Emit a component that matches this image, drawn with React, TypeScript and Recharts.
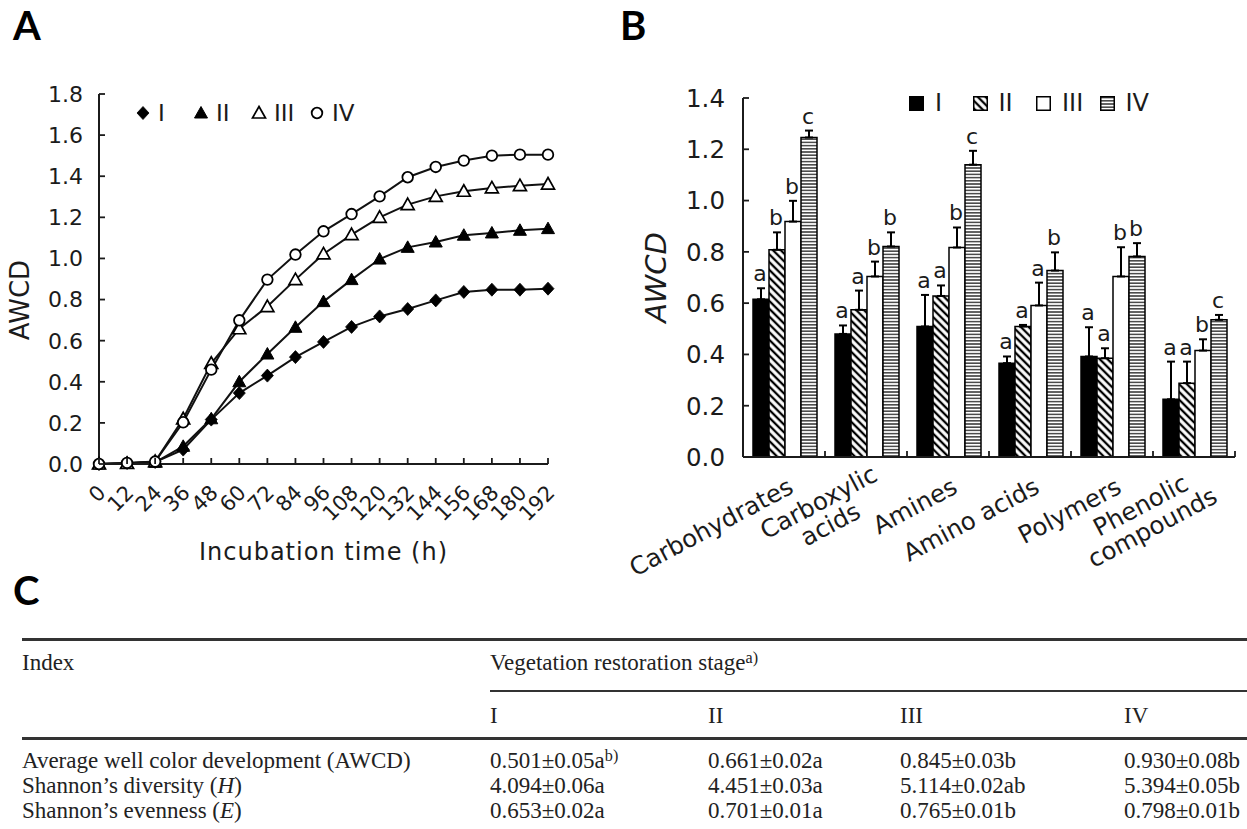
import React from 'react';
import { LineChart, Line, XAxis, YAxis, BarChart, Bar, ErrorBar, LabelList, Legend, Label } from 'recharts';

const SANS = '"DejaVu Sans", Verdana, sans-serif';
const SERIF = '"Liberation Serif", "Times New Roman", serif';
const PANEL_FONT = 'Lato, "Liberation Sans", sans-serif';
const INK = '#1b1b1b';

// ---------- Panel A: AWCD over incubation time ----------
const hours = [0, 12, 24, 36, 48, 60, 72, 84, 96, 108, 120, 132, 144, 156, 168, 180, 192];
const awcdStageI = [0, 0.005, 0.01, 0.07, 0.216, 0.345, 0.43, 0.52, 0.594, 0.667, 0.718, 0.754, 0.796, 0.837, 0.848, 0.848, 0.853];
const awcdStageII = [0, 0.003, 0.008, 0.086, 0.22, 0.4, 0.535, 0.665, 0.79, 0.897, 0.997, 1.054, 1.08, 1.113, 1.124, 1.137, 1.145];
const awcdStageIII = [0, 0.003, 0.012, 0.22, 0.49, 0.658, 0.766, 0.897, 1.022, 1.116, 1.2, 1.262, 1.302, 1.327, 1.343, 1.354, 1.362];
const awcdStageIV = [0, 0.005, 0.012, 0.203, 0.459, 0.699, 0.897, 1.019, 1.132, 1.216, 1.302, 1.395, 1.445, 1.476, 1.5, 1.505, 1.505];
const awcdTicksA = [0, 0.2, 0.4, 0.6, 0.8, 1.0, 1.2, 1.4, 1.6, 1.8];
const stageNames = ['I', 'II', 'III', 'IV'];

// ---------- Panel B: AWCD by substrate guild ----------
const substrates = ['Carbohydrates', 'Carboxylic\nacids', 'Amines', 'Amino acids', 'Polymers', 'Phenolic\ncompounds'];
const meanI = [0.615, 0.48, 0.509, 0.366, 0.392, 0.225];
const meanII = [0.808, 0.574, 0.628, 0.509, 0.385, 0.288];
const meanIII = [0.918, 0.704, 0.817, 0.591, 0.704, 0.415];
const meanIV = [1.246, 0.821, 1.14, 0.727, 0.782, 0.535];
const errI = [0.043, 0.033, 0.123, 0.026, 0.114, 0.147];
const errII = [0.068, 0.075, 0.041, 0.006, 0.039, 0.084];
const errIII = [0.081, 0.058, 0.078, 0.089, 0.114, 0.044];
const errIV = [0.027, 0.055, 0.054, 0.071, 0.052, 0.019];
const lettersI = ['a', 'a', 'a', 'a', 'a', 'a'];
const lettersII = ['b', 'a', 'a', 'a', 'a', 'a'];
const lettersIII = ['b', 'b', 'b', 'a', 'b', 'b'];
const lettersIV = ['c', 'b', 'c', 'b', 'b', 'c'];
const awcdTicksB = [0, 0.2, 0.4, 0.6, 0.8, 1.0, 1.2, 1.4];

// ---------- Panel C: table ----------
const tableStages = ['I', 'II', 'III', 'IV'];
const tableAWCD = ['0.501±0.05a', '0.661±0.02a', '0.845±0.03b', '0.930±0.08b'];
const tableH = ['4.094±0.06a', '4.451±0.03a', '5.114±0.02ab', '5.394±0.05b'];
const tableE = ['0.653±0.02a', '0.701±0.01a', '0.765±0.01b', '0.798±0.01b'];

const lineData = hours.map((h, i) => ({
  h,
  I: awcdStageI[i],
  II: awcdStageII[i],
  III: awcdStageIII[i],
  IV: awcdStageIV[i],
}));

const means = [meanI, meanII, meanIII, meanIV];
const errs = [errI, errII, errIII, errIV];
const letters = [lettersI, lettersII, lettersIII, lettersIV];

const barData = substrates.map((cat, i) => {
  const row: any = { cat };
  stageNames.forEach((s, si) => {
    row[s] = means[si][i];
    row['e' + s] = [0, errs[si][i]];
    row['l' + s] = letters[si][i] + '|' + errs[si][i] / means[si][i];
  });
  return row;
});

// ---------- helpers ----------
const shapesA = ['diamond', 'triFilled', 'triOpen', 'circle'];

function Marker({ shape, cx, cy }: { shape: string; cx: number; cy: number }) {
  if (cx == null || cy == null || isNaN(cx) || isNaN(cy)) return <g />;
  if (shape === 'diamond')
    return <polygon points={`${cx},${cy - 6.5} ${cx + 6},${cy} ${cx},${cy + 6.5} ${cx - 6},${cy}`} fill="#000" stroke="#000" strokeWidth={0.8} />;
  if (shape === 'triFilled')
    return <polygon points={`${cx},${cy - 6.5} ${cx + 6.5},${cy + 5} ${cx - 6.5},${cy + 5}`} fill="#000" stroke="#000" strokeWidth={1} />;
  if (shape === 'triOpen')
    return <polygon points={`${cx},${cy - 6.5} ${cx + 6.5},${cy + 5} ${cx - 6.5},${cy + 5}`} fill="#fff" stroke="#000" strokeWidth={1.7} />;
  return <circle cx={cx} cy={cy} r={5.3} fill="#fff" stroke="#000" strokeWidth={1.8} />;
}

// DejaVu Sans advance widths (em)
const CW: Record<string, number> = {
  a: 0.613, b: 0.635, c: 0.55, d: 0.635, e: 0.615, f: 0.352, g: 0.635, h: 0.634, i: 0.278, j: 0.278, k: 0.579,
  l: 0.278, m: 0.974, n: 0.634, o: 0.612, p: 0.635, q: 0.635, r: 0.411, s: 0.521, t: 0.392, u: 0.634, v: 0.592,
  w: 0.818, x: 0.592, y: 0.592, z: 0.525, ' ': 0.318, A: 0.684, C: 0.698, P: 0.603,
};
const textW = (s: string, fs: number) => s.split('').reduce((acc, ch) => acc + (CW[ch] ?? 0.68), 0) * fs;

const hourTick = (props: any) => {
  const { x, y, payload } = props;
  return (
    <g>
      <line x1={x} y1={y} x2={x} y2={y - 6} stroke={INK} strokeWidth={1.8} />
      <text
        transform={`translate(${x + 8},${y + 30}) rotate(-45)`}
        textAnchor="end"
        fontSize={21}
        fontFamily={SANS}
        fill={INK}
      >
        {payload.value}
      </text>
    </g>
  );
};

const makeYTick = (fs: number, gap: number) => (props: any) => {
  const { x, y, payload } = props;
  return (
    <g>
      <line x1={x} y1={y} x2={x + 6} y2={y} stroke={INK} strokeWidth={1.8} />
      <text x={x - gap} y={y} dy="0.36em" textAnchor="end" fontSize={fs} fontFamily={SANS} fill={INK}>
        {Number(payload.value).toFixed(1)}
      </text>
    </g>
  );
};

// Panel B geometry (plot width / number of categories gives band)
const B_CHART_W = 627;
const B_Y_W = 123;
const B_MARGIN_R = 12;
const B_BAND = (B_CHART_W - B_Y_W - B_MARGIN_R) / substrates.length;

const catTick = (props: any) => {
  const { x, y, payload } = props;
  const lines = String(payload.value).split('\n');
  const fs = 24.5;
  const lh = 25;
  const widths = lines.map((l) => textW(l, fs));
  const maxW = Math.max(...widths);
  return (
    <g>
      <line x1={x + B_BAND / 2} y1={y} x2={x + B_BAND / 2} y2={y - 6} stroke={INK} strokeWidth={1.8} />
      <g transform={`translate(${x + 11},${y + 35}) rotate(-28)`}>
        {lines.map((l, i) => (
          <text
            key={i}
            x={lines.length === 1 ? 0 : -maxW / 2 + 8}
            y={(i - (lines.length - 1) * 0.4) * lh}
            textAnchor={lines.length === 1 ? 'end' : 'middle'}
            fontSize={fs}
            fontFamily={SANS}
            fill={INK}
          >
            {l}
          </text>
        ))}
      </g>
    </g>
  );
};

const letterLabel = (props: any) => {
  const vb = props.viewBox || props;
  const x = vb.x ?? props.x;
  const y = vb.y ?? props.y;
  const width = vb.width ?? props.width;
  const height = vb.height ?? props.height;
  const [letter, ratioStr] = String(props.value).split('|');
  const errPx = Number(ratioStr) * Math.abs(height);
  return (
    <text
      x={x + width / 2 - 1}
      y={y - errPx - 7}
      textAnchor="middle"
      fontSize={22}
      fontFamily={SANS}
      fill={INK}
    >
      {letter}
    </text>
  );
};

const barFills = ['#000', 'url(#hatchII)', '#fff', 'url(#stripeIV)'];

const legendA = () => (
  <div style={{ display: 'flex', alignItems: 'center', fontFamily: SANS, fontSize: 23, color: INK, lineHeight: '24px' }}>
    {stageNames.map((s, i) => (
      <div key={s} style={{ display: 'flex', alignItems: 'center', width: 58 }}>
        <svg width={14} height={14} style={{ overflow: 'visible' }}>
          <Marker shape={shapesA[i]} cx={7} cy={7} />
        </svg>
        <span style={{ marginLeft: 8 }}>{s}</span>
      </div>
    ))}
  </div>
);

const legendB = () => (
  <div style={{ display: 'flex', alignItems: 'center', fontFamily: SANS, fontSize: 24, color: INK, lineHeight: '24px' }}>
    {stageNames.map((s, i) => (
      <div key={s} style={{ display: 'flex', alignItems: 'center', width: 63.5 }}>
        <svg width={15} height={15}>
          <rect x={0.75} y={0.75} width={13.5} height={13.5} fill={barFills[i]} stroke="#000" strokeWidth={1.5} />
        </svg>
        <span style={{ marginLeft: 11 }}>{s}</span>
      </div>
    ))}
  </div>
);

const tableRows = [
  { label: <>Average well color development (AWCD)</>, vals: tableAWCD, sup: true },
  { label: <>Shannon’s diversity (<i>H</i>)</>, vals: tableH, sup: false },
  { label: <>Shannon’s evenness (<i>E</i>)</>, vals: tableE, sup: false },
];
const colX = [490, 708, 900, 1124];
const rowY = [761, 786, 811];

const tText = (top: number, left: number, content: React.ReactNode, key?: string) => (
  <div
    key={key}
    style={{
      position: 'absolute',
      top: top - 14,
      left,
      height: 28,
      lineHeight: '28px',
      fontFamily: SERIF,
      fontSize: 23,
      color: '#222',
      whiteSpace: 'nowrap',
    }}
  >
    {content}
  </div>
);

const rule = (top: number, left: number, h: number, key: string) => (
  <div key={key} style={{ position: 'absolute', top, left, width: 1247 - left, height: h, background: '#333' }} />
);

const panelLabel = (txt: string, left: number, top: number) => (
  <div
    style={{
      position: 'absolute',
      left,
      top,
      fontFamily: PANEL_FONT,
      fontWeight: 700,
      fontSize: 40,
      lineHeight: 'normal',
      color: '#000',
    }}
  >
    {txt}
  </div>
);

export default function App() {
  return (
    <div
      style={{
        position: 'absolute',
        left: 0,
        top: 0,
        width: 1247,
        height: 829,
        background: '#fff',
        overflow: 'hidden',
        fontFamily: SANS,
      }}
    >
      <svg width={0} height={0} style={{ position: 'absolute' }}>
        <defs>
          <pattern id="hatchII" patternUnits="userSpaceOnUse" width={5.5} height={5.5} patternTransform="rotate(45)">
            <rect width={5.5} height={5.5} fill="#fff" />
            <line x1={0} y1={2.75} x2={5.5} y2={2.75} stroke="#000" strokeWidth={2.3} />
          </pattern>
          <pattern id="stripeIV" patternUnits="userSpaceOnUse" width={6} height={3.2}>
            <rect width={6} height={3.2} fill="#fff" />
            <line x1={0} y1={1.6} x2={6} y2={1.6} stroke="#222" strokeWidth={1.3} />
          </pattern>
        </defs>
      </svg>

      {panelLabel('A', 13, 1)}
      {panelLabel('B', 620, 1)}
      {panelLabel('C', 13, 566)}

      {/* Panel A */}
      <div style={{ position: 'absolute', left: 0, top: 0 }}>
        <LineChart width={600} height={600} data={lineData} margin={{ top: 94, right: 52, bottom: 66, left: 0 }}>
          <XAxis
            dataKey="h"
            type="number"
            domain={[0, 192]}
            ticks={hours}
            interval={0}
            tick={hourTick}
            tickLine={false}
            tickSize={0}
            tickMargin={0}
            height={70}
            axisLine={{ stroke: INK, strokeWidth: 2 }}
          >
            <Label
              content={(p: any) => {
                const vb = p.viewBox || {};
                return (
                  <text
                    x={vb.x + vb.width / 2}
                    y={vb.y + 96}
                    textAnchor="middle"
                    fontSize={24}
                    letterSpacing={1}
                    fontFamily={SANS}
                    fill={INK}
                  >
                    Incubation time (h)
                  </text>
                );
              }}
            />
          </XAxis>
          <YAxis
            type="number"
            domain={[0, 1.8]}
            ticks={awcdTicksA}
            interval={0}
            width={99}
            tick={makeYTick(22, 16)}
            tickLine={false}
            tickSize={0}
            tickMargin={0}
            axisLine={{ stroke: INK, strokeWidth: 2 }}
          >
            <Label
              content={(p: any) => {
                const vb = p.viewBox || {};
                const cy = vb.y + vb.height / 2 + 21;
                return (
                  <text
                    transform={`translate(${vb.x + 20},${cy}) rotate(-90)`}
                    textAnchor="middle"
                    dominantBaseline="central"
                    fontSize={26}
                    fontFamily={SANS}
                    fill={INK}
                  >
                    AWCD
                  </text>
                );
              }}
            />
          </YAxis>
          <Legend
            layout="horizontal"
            verticalAlign="middle"
            align="center"
            content={legendA}
            wrapperStyle={{ top: 101, left: 136, width: 'auto' }}
          />
          {stageNames.map((s, i) => (
            <Line
              key={s}
              type="linear"
              dataKey={s}
              stroke="#111"
              strokeWidth={2}
              isAnimationActive={false}
              activeDot={false}
              dot={(p: any) => <Marker key={`${s}-${p.index}`} shape={shapesA[i]} cx={p.cx} cy={p.cy} />}
            />
          ))}
        </LineChart>
      </div>

      {/* Panel B */}
      <div style={{ position: 'absolute', left: 620, top: 0 }}>
        <BarChart
          width={B_CHART_W}
          height={600}
          data={barData}
          margin={{ top: 98, right: B_MARGIN_R, bottom: 73, left: 0 }}
          barCategoryGap={10}
          barGap={0}
        >
          <XAxis
            dataKey="cat"
            type="category"
            interval={0}
            tick={catTick}
            tickLine={false}
            tickSize={0}
            tickMargin={0}
            height={70}
            axisLine={{ stroke: INK, strokeWidth: 2 }}
          />
          <YAxis
            type="number"
            domain={[0, 1.4]}
            ticks={awcdTicksB}
            interval={0}
            width={B_Y_W}
            tick={makeYTick(24.5, 18)}
            tickLine={false}
            tickSize={0}
            tickMargin={0}
            axisLine={{ stroke: INK, strokeWidth: 2 }}
          >
            <Label
              content={(p: any) => {
                const vb = p.viewBox || {};
                return (
                  <text
                    transform={`translate(${vb.x + 36},${vb.y + vb.height / 2}) rotate(-90)`}
                    textAnchor="middle"
                    dominantBaseline="central"
                    fontSize={29}
                    fontStyle="italic"
                    fontFamily={SANS}
                    fill={INK}
                  >
                    AWCD
                  </text>
                );
              }}
            />
          </YAxis>
          <Legend
            layout="horizontal"
            verticalAlign="middle"
            align="center"
            content={legendB}
            wrapperStyle={{ top: 91, left: 289, width: 'auto' }}
          />
          {stageNames.map((s, i) => (
            <Bar key={s} dataKey={s} fill={barFills[i]} stroke="#000" strokeWidth={1.5} isAnimationActive={false}>
              <ErrorBar dataKey={'e' + s} width={4} strokeWidth={2} stroke="#000" direction="y" />
              <LabelList dataKey={'l' + s} content={letterLabel} />
            </Bar>
          ))}
        </BarChart>
      </div>

      {/* Panel C: table */}
      {rule(638, 22, 3, 'r1')}
      {tText(663, 22, 'Index', 'idx')}
      {tText(
        663,
        490,
        <>
          Vegetation restoration stage<sup style={{ fontSize: '0.7em', verticalAlign: '0.45em', lineHeight: 0 }}>a)</sup>
        </>,
        'veg'
      )}
      {rule(690, 490, 1.6, 'r2')}
      {tableStages.map((s, i) => tText(716, colX[i], s, 'st' + i))}
      {rule(737, 22, 2.5, 'r3')}
      {tableRows.map((row, ri) => (
        <React.Fragment key={'row' + ri}>
          {tText(rowY[ri], 22, row.label, 'lab' + ri)}
          {row.vals.map((v, ci) =>
            tText(
              rowY[ri],
              colX[ci],
              <>
                {v}
                {row.sup && ci === 0 ? (
                  <sup style={{ fontSize: '0.7em', verticalAlign: '0.45em', lineHeight: 0 }}>b)</sup>
                ) : null}
              </>,
              `v${ri}-${ci}`
            )
          )}
        </React.Fragment>
      ))}
    </div>
  );
}
